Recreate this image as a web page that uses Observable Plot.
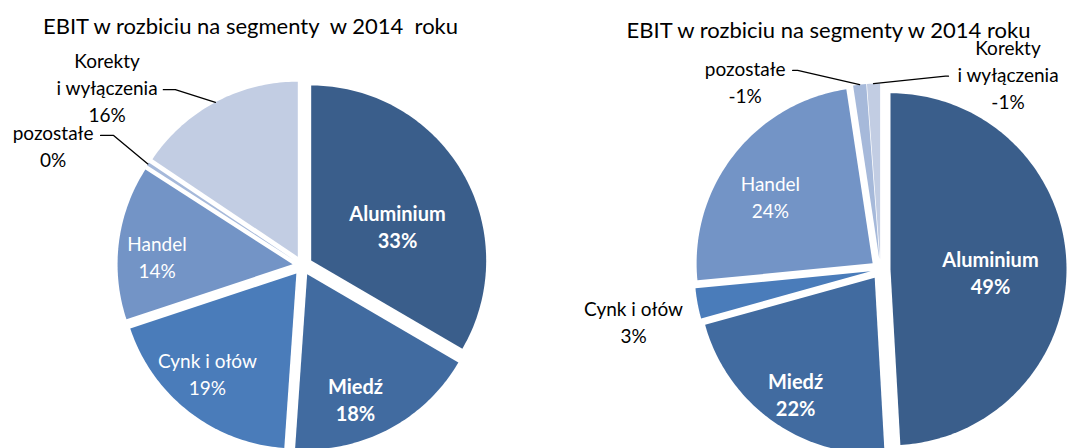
<!DOCTYPE html>
<html><head><meta charset="utf-8">
<script src="https://cdn.jsdelivr.net/npm/d3@7"></script>
<script src="https://cdn.jsdelivr.net/npm/@observablehq/plot@0.6"></script>
<style>body{margin:0;background:#fff;}</style>
</head><body><div id="chart"></div>
<script>
// ---- data ----
const categories = ["Aluminium", "Miedź", "Cynk i ołów", "Handel", "pozostałe", "Korekty"];
const labelNames = ["Aluminium", "Miedź", "Cynk i ołów", "Handel", "pozostałe", "Korekty\ni wyłączenia"];
const ebitLeft = [33.4, 17.7, 18.8, 14.2, 0.3, 15.6];
const ebitRight = [49.4, 21.7, 2.8, 24.3, -1.2, -1.2];
const titles = ["EBIT w rozbiciu na segmenty  w 2014  roku", "EBIT w rozbiciu na segmenty w 2014 roku"];
const colors = ["#3a5e8b", "#416ba0", "#4a7cba", "#7394c6", "#a6b9da", "#c2cde3"];

// ---- layout ----
const W = 1075, H = 448, FONT = "Lato, 'Open Sans', sans-serif";
const pies = [
  {cx: 302, cy: 265, r: 175, explode: 10, values: ebitLeft, title: titles[0],
   labelPolar: [[67.4, 0.588], [158.3, 0.818], [221.5, 0.82], [273.9, 0.833], [295.8, 1.583], [312.5, 1.515]],
   inside: [true, true, true, true, false, false],
   leaders: {4: [47.5, -9.5, 13], 5: [56.3, 3.3, 12]}},
  {cx: 880, cy: 269, r: 176, explode: 10, values: ebitRight, title: titles[1],
   labelPolar: [[91.0, 0.625], [214.4, 0.854], [258.3, 1.433], [303.7, 0.752], [324.4, 1.321], [33.0, 1.33]],
   inside: [true, true, false, true, false, false],
   leaders: {4: [47.5, -10, 5], 5: [-59.5, 3, -3]}}
];
const bold = [true, true, false, false, false, false];
const rad = Math.PI / 180;

const slicePts = [], labels = [], leaderPts = [], titleRows = [];
pies.forEach((p, pi) => {
  const arcs = d3.pie().sort(null).value(v => Math.abs(v))(p.values);
  titleRows.push({x: p.cx - 52, y: p.cy - 239, text: p.title});
  arcs.forEach((a, i) => {
    const id = pi + "-" + i;
    const mid = (a.startAngle + a.endAngle) / 2;
    const ox = p.cx + p.explode * Math.sin(mid), oy = p.cy - p.explode * Math.cos(mid);
    slicePts.push({id, cat: categories[i], x: ox, y: oy});
    const n = Math.max(2, Math.ceil((a.endAngle - a.startAngle) / rad));
    for (let k = 0; k <= n; k++) {
      const t = a.startAngle + (a.endAngle - a.startAngle) * k / n;
      slicePts.push({id, cat: categories[i], x: ox + p.r * Math.sin(t), y: oy - p.r * Math.cos(t)});
    }
    const [ang, rf] = p.labelPolar[i];
    const lx = p.cx + rf * p.r * Math.sin(ang * rad), ly = p.cy - rf * p.r * Math.cos(ang * rad);
    labels.push({x: lx, y: ly, text: labelNames[i] + "\n" + Math.round(p.values[i]) + "%",
      inside: p.inside[i], bold: bold[i]});
    if (p.leaders[i]) {
      const [dx, dy, el] = p.leaders[i];
      const sx = lx + dx, sy = ly + dy;
      leaderPts.push({id, x: sx, y: sy});
      leaderPts.push({id, x: sx + el, y: sy});
      leaderPts.push({id, x: ox + p.r * Math.sin(mid), y: oy - p.r * Math.cos(mid)});
    }
  });
});

const fs = 19;
const textOpts = {x: "x", y: "y", text: "text", fontSize: fs, lineHeight: 27 / fs, fontFamily: FONT};
const chart = Plot.plot({
  width: W, height: H, margin: 0,
  x: {domain: [0, W], range: [0, W], axis: null},
  y: {domain: [0, H], range: [0, H], axis: null},
  color: {domain: categories, range: colors},
  style: {background: "#fff"},
  marks: [
    Plot.line(slicePts, {x: "x", y: "y", z: "id", fill: "cat", stroke: null, curve: "linear"}),
    Plot.line(leaderPts, {x: "x", y: "y", z: "id", stroke: "#000", strokeWidth: 1.3}),
    Plot.text(labels, {...textOpts, filter: d => d.inside && d.bold, fill: "#fff", fontWeight: "bold", fontSize: 20, lineHeight: 27 / 20}),
    Plot.text(labels, {...textOpts, filter: d => d.inside && !d.bold, fill: "#fff"}),
    Plot.text(labels, {...textOpts, filter: d => !d.inside, fill: "#000"}),
    Plot.text(titleRows, {x: "x", y: "y", text: "text", fontSize: 22, fontFamily: FONT, fill: "#000"})
  ]
});
document.getElementById("chart").appendChild(chart);
</script>
</body></html>
